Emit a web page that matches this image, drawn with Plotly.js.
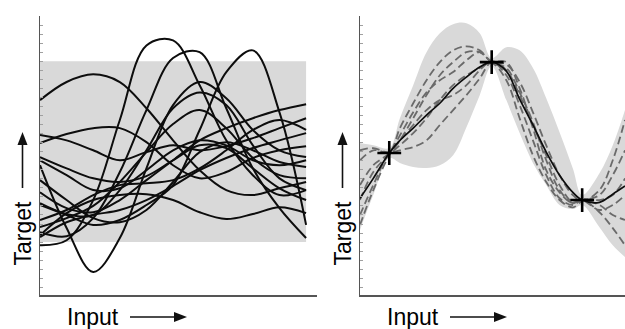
<!DOCTYPE html>
<html><head><meta charset="utf-8">
<script src="https://cdn.plot.ly/plotly-3.0.1.min.js"></script>
<style>html,body{margin:0;padding:0;background:#fff}#chart{width:625px;height:329px}</style>
</head><body><div id="chart"></div>
<script>
// ---------- Left panel: prior samples ----------
const priorX = [0,1,2,3,4,5,6,7,8,9,10];
const priorA = [-2.07,-1.96,-1.07,0.70,2.35,2.46,1.47,0.25,-0.52,-0.96,-0.85];
const priorB = [-1.78,-1.87,-1.47,-0.45,0.92,2.07,2.20,0.96,-0.37,-1.25,-1.91];
const priorC = [-1.18,-1.40,-1.62,-1.51,-1.18,-0.74,0.48,1.76,2.24,0.87,-1.62];
const priorD = [1.14,1.54,1.71,1.54,0.96,0.25,-0.41,-0.85,-0.96,-0.81,-0.67];
const priorE = [-0.30,-1.69,-2.66,-1.91,-0.37,1.03,1.54,1.18,0.48,0.03,-0.12];
const priorF = [-1.85,-1.36,-1.07,-0.96,-0.94,-1.07,-1.34,-1.49,-1.38,-1.23,-1.36];
const priorG = [0.37,0.25,0.03,-0.19,-0.01,0.14,0.03,0.12,0.30,0.52,0.74];
const priorH = [0.19,0.39,0.52,0.52,0.21,-0.30,-0.59,-0.45,-0.14,0.03,0.12];
const priorI = [-0.12,-0.37,-0.59,-0.67,-0.54,-0.19,0.14,0.08,-0.37,-0.81,-1.07];
const priorJ = [-0.90,-1.25,-1.34,-1.07,-0.63,-0.19,0.25,0.52,0.74,0.92,1.05];
const priorK = [-0.63,-1.07,-1.47,-1.56,-1.29,-0.67,-0.01,0.21,0.03,-0.23,-0.34];
const priorL = [-1.14,-1.38,-1.40,-0.85,0.03,0.96,1.31,1.03,0.14,-0.59,-0.85];
const priorM = [-1.67,-1.47,-1.20,-0.67,-0.01,0.61,0.92,0.52,-0.14,-0.52,-0.59];
const priorN = [-1.89,-1.56,-1.40,-1.29,-1.07,-0.76,-0.41,-0.14,0.08,0.25,0.41];
const priorO = [-0.19,-0.52,-0.85,-0.81,-0.41,0.03,0.25,0.14,-0.19,-0.30,-0.19];
const priorP = [-1.51,-1.29,-0.96,-0.74,-0.70,-0.63,-0.37,0.03,0.48,0.70,0.48];
const priorSamples = [priorA,priorB,priorC,priorD,priorE,priorF,priorG,priorH,priorI,priorJ,priorK,priorL,priorM,priorN,priorO,priorP];
const priorBandX = [0, 10];
const priorBand = [-2, 2];

// ---------- Right panel: posterior ----------
const postX    = [0,0.5,1.1,1.5,2,2.5,3,3.5,4,4.5,4.95,5.5,6,6.5,7,7.5,8,8.35,9,9.5,9.96];
const postMean = [-1.03,-0.59,-0.03,0.25,0.52,0.81,1.07,1.40,1.65,1.87,1.98,1.78,1.16,0.59,-0.01,-0.52,-0.90,-1.07,-1.12,-0.94,-0.76];
const postUpper= [0.19,0.14,0.08,0.74,1.47,2.20,2.62,2.82,2.84,2.62,2.07,2.31,2.24,1.85,1.18,0.43,-0.37,-0.96,-0.48,0.14,0.92];
const postLower= [-1.73,-0.96,-0.14,-0.25,-0.34,-0.36,-0.30,-0.08,0.54,1.25,1.89,1.14,0.41,-0.25,-0.74,-1.18,-1.27,-1.18,-1.67,-2.07,-2.33];
const postS1 = [-0.19,0.03,-0.01,0.52,1.07,1.58,1.98,2.24,2.33,2.24,1.98,1.93,1.54,0.87,0.14,-0.52,-0.96,-1.09,-0.85,-0.19,0.70];
const postS2 = [-1.40,-0.74,-0.06,0.03,0.10,0.25,0.59,0.92,1.25,1.62,1.98,1.69,1.03,0.25,-0.52,-1.03,-1.18,-1.07,-1.34,-1.69,-2.07];
const postS3 = [-0.74,-0.30,-0.03,0.36,0.87,1.31,1.58,1.76,2.02,2.20,2.00,1.98,1.40,0.52,-0.41,-0.90,-1.14,-1.05,-1.07,-0.96,-0.59];
const postS4 = [-1.07,-0.45,-0.06,0.14,0.41,0.74,1.14,1.47,1.69,1.85,1.96,1.58,0.74,-0.08,-0.67,-1.07,-1.23,-1.09,-0.96,-0.52,0.03];
const postS5 = [0.03,0.08,-0.01,0.25,0.59,0.92,1.14,1.25,1.47,1.80,2.00,1.80,1.25,0.59,-0.08,-0.74,-1.12,-1.07,-1.29,-1.18,-0.96];
const postS6 = [-1.62,-0.85,-0.08,0.25,0.74,1.25,1.69,1.98,2.20,2.20,1.98,1.85,1.31,0.65,-0.19,-0.85,-1.14,-1.07,-1.18,-1.40,-1.51];
const postSamples = [postS1,postS2,postS3,postS4,postS5,postS6];
const obsX = [1.1, 4.95, 8.35];
const obsY = [-0.03, 1.98, -1.07];

const BAND = '#d9d9d9';
const traces = [];
traces.push({x:[priorBandX[0],priorBandX[1],priorBandX[1],priorBandX[0]],
  y:[priorBand[1],priorBand[1],priorBand[0],priorBand[0]],
  type:'scatter',mode:'lines',fill:'toself',fillcolor:BAND,line:{width:0},xaxis:'x',yaxis:'y',hoverinfo:'skip'});
priorSamples.forEach(s=>traces.push({x:priorX,y:s,type:'scatter',mode:'lines',
  line:{color:'#0d0d0d',width:2,shape:'spline',smoothing:1},xaxis:'x',yaxis:'y'}));
traces.push({x:postX,y:postUpper,type:'scatter',mode:'lines',line:{width:0,shape:'spline',smoothing:1},xaxis:'x2',yaxis:'y2'});
traces.push({x:postX,y:postLower,type:'scatter',mode:'lines',fill:'tonexty',fillcolor:BAND,line:{width:0,shape:'spline',smoothing:1},xaxis:'x2',yaxis:'y2'});
postSamples.forEach(s=>traces.push({x:postX,y:s,type:'scatter',mode:'lines',
  line:{color:'#6a6a6a',width:1.8,dash:'8px,4px',shape:'spline',smoothing:1},xaxis:'x2',yaxis:'y2'}));
traces.push({x:postX,y:postMean,type:'scatter',mode:'lines',line:{color:'#0d0d0d',width:1.7,shape:'spline',smoothing:1},xaxis:'x2',yaxis:'y2'});
traces.push({x:obsX,y:obsY,type:'scatter',mode:'markers',
  marker:{symbol:'cross-thin',size:17,line:{color:'#000',width:2.6}},xaxis:'x2',yaxis:'y2'});

const W=625,H=329;
const px=(v)=>v/W, py=(v)=>1-v/H;
const yDom=[py(295),py(16)];
const axX={showline:true,linecolor:'#555',linewidth:1.5,showgrid:false,zeroline:false,showticklabels:false,ticks:'',fixedrange:true};
const axY={showline:true,linecolor:'#555',linewidth:1.5,showgrid:false,zeroline:false,showticklabels:false,
  ticks:'inside',tick0:0,dtick:0.2,ticklen:3,tickwidth:1,tickcolor:'#a0a0a0',range:[-3.17,3.0],domain:yDom};

const shapes=[], annotations=[];
function upArrow(x,yTip,yTail){
  shapes.push({type:'line',xref:'paper',yref:'paper',x0:px(x),x1:px(x),y0:py(yTail),y1:py(yTip+10),line:{color:'#111',width:1.6}});
  shapes.push({type:'path',xref:'paper',yref:'paper',path:`M ${px(x)} ${py(yTip)} L ${px(x-5)} ${py(yTip+13)} L ${px(x+5)} ${py(yTip+13)} Z`,fillcolor:'#111',line:{width:0}});
}
function rightArrow(x0,xTip,y){
  shapes.push({type:'line',xref:'paper',yref:'paper',x0:px(x0),x1:px(xTip-10),y0:py(y),y1:py(y),line:{color:'#111',width:1.6}});
  shapes.push({type:'path',xref:'paper',yref:'paper',path:`M ${px(xTip)} ${py(y)} L ${px(xTip-13)} ${py(y-5)} L ${px(xTip-13)} ${py(y+5)} Z`,fillcolor:'#111',line:{width:0}});
}
const font={family:'Liberation Sans, Arial, sans-serif',size:23,color:'#000'};
[[0,22.5],[320,342.5]].forEach(([off,tx])=>{
  upArrow(tx,132,188);
  rightArrow(off+130,off+187,317);
  annotations.push({text:'Target',xref:'paper',yref:'paper',x:px(tx),y:py(233),textangle:-90,showarrow:false,xanchor:'center',yanchor:'middle',font});
  annotations.push({text:'Input',xref:'paper',yref:'paper',x:px(off+93),y:py(317),showarrow:false,xanchor:'center',yanchor:'middle',font});
});

const layout={width:W,height:H,margin:{l:0,r:0,t:0,b:0},paper_bgcolor:'#fff',plot_bgcolor:'#fff',showlegend:false,
  xaxis:Object.assign({},axX,{domain:[px(40),px(317)],range:[0,10.41],anchor:'y'}),
  yaxis:Object.assign({},axY,{anchor:'x'}),
  xaxis2:Object.assign({},axX,{domain:[px(360),1],range:[0,9.96],anchor:'y2'}),
  yaxis2:Object.assign({},axY,{anchor:'x2'}),
  shapes,annotations};
Plotly.newPlot('chart',traces,layout,{staticPlot:true,displayModeBar:false});
</script></body></html>
